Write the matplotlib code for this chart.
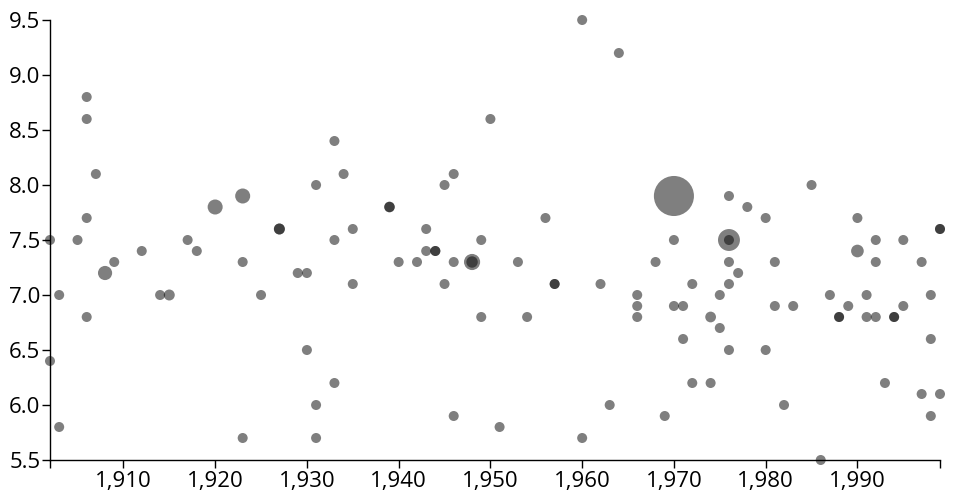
import matplotlib.pyplot as plt
from matplotlib.ticker import FuncFormatter

plt.rcParams['font.family'] = ['Open Sans', 'DejaVu Sans']

# год выпуска, рейтинг, относительный "вес" (площадь кружка)
years = [1906, 1906, 1907, 1906, 1902, 1905, 1920, 1923, 1927, 1927, 1931, 1917,
         1912, 1918, 1908, 1909, 1903, 1906, 1914, 1915, 1923, 1925, 1929, 1930,
         1930, 1902, 1903, 1923, 1931, 1931,
         1960, 1964, 1950, 1933, 1934, 1946, 1945, 1939, 1939, 1956, 1935, 1943,
         1933, 1949, 1943, 1944, 1944, 1940, 1942, 1946, 1948, 1948, 1953, 1935,
         1945, 1957, 1957, 1962, 1966, 1966, 1966, 1949, 1954, 1933, 1946, 1951,
         1960, 1963,
         1970, 1976, 1978, 1980, 1985, 1990, 1999, 1999, 1970, 1976, 1976, 1992,
         1995, 1990, 1968, 1976, 1981, 1992, 1997, 1977, 1972, 1976, 1975, 1987,
         1991, 1998, 1970, 1971, 1981, 1983, 1989, 1995, 1974, 1988, 1988, 1991,
         1992, 1994, 1994, 1975, 1971, 1998, 1976, 1980, 1972, 1974, 1993, 1997,
         1999, 1982, 1969, 1998, 1986]
ratings = [8.8, 8.6, 8.1, 7.7, 7.5, 7.5, 7.8, 7.9, 7.6, 7.6, 8.0, 7.5,
           7.4, 7.4, 7.2, 7.3, 7.0, 6.8, 7.0, 7.0, 7.3, 7.0, 7.2, 7.2,
           6.5, 6.4, 5.8, 5.7, 6.0, 5.7,
           9.5, 9.2, 8.6, 8.4, 8.1, 8.1, 8.0, 7.8, 7.8, 7.7, 7.6, 7.6,
           7.5, 7.5, 7.4, 7.4, 7.4, 7.3, 7.3, 7.3, 7.3, 7.3, 7.3, 7.1,
           7.1, 7.1, 7.1, 7.1, 7.0, 6.9, 6.8, 6.8, 6.8, 6.2, 5.9, 5.8,
           5.7, 6.0,
           7.9, 7.9, 7.8, 7.7, 8.0, 7.7, 7.6, 7.6, 7.5, 7.5, 7.5, 7.5,
           7.5, 7.4, 7.3, 7.3, 7.3, 7.3, 7.3, 7.2, 7.1, 7.1, 7.0, 7.0,
           7.0, 7.0, 6.9, 6.9, 6.9, 6.9, 6.9, 6.9, 6.8, 6.8, 6.8, 6.8,
           6.8, 6.8, 6.8, 6.7, 6.6, 6.6, 6.5, 6.5, 6.2, 6.2, 6.2, 6.1,
           6.1, 6.0, 5.9, 5.9, 5.5]
weights = [1, 1, 1, 1, 1, 1, 2.25, 2.25, 1.2, 1.2, 1, 1,
           1, 1, 2, 1, 1, 1, 1, 1.2, 1, 1, 1, 1,
           1, 1, 1, 1, 1, 1,
           1, 1, 1, 1, 1, 1, 1, 1.1, 1.1, 1, 1, 1,
           1, 1, 1, 1, 1, 1, 1, 1, 2.6, 1.3, 1, 1,
           1, 1, 1, 1, 1, 1, 1, 1, 1, 1, 1, 1,
           1, 1,
           16, 1, 1, 1, 1, 1, 1, 1, 1, 4.8, 1, 1,
           1, 1.6, 1, 1, 1, 1, 1, 1, 1, 1, 1, 1,
           1, 1, 1, 1, 1, 1, 1, 1, 1.15, 1, 1, 1,
           1, 1, 1, 1, 1, 1, 1, 1, 1, 1, 1, 1,
           1, 1, 1, 1, 1]

x_ticks = [1910, 1920, 1930, 1940, 1950, 1960, 1970, 1980, 1990]
y_ticks = [5.5, 6.0, 6.5, 7.0, 7.5, 8.0, 8.5, 9.0, 9.5]

fig = plt.figure(figsize=(9.6, 5.0), dpi=100)
ax = fig.add_axes([50 / 960, 40 / 500, 890 / 960, 440 / 500])

ax.scatter(years, ratings, s=[52 * w for w in weights], color='black',
           alpha=0.5, linewidths=0, clip_on=False, zorder=3)

ax.set_xlim(1902, 1999)
ax.set_ylim(5.5, 9.5)
ax.set_xticks(x_ticks)
ax.set_xticks([1902, 1999], minor=True)
ax.set_yticks(y_ticks)
ax.xaxis.set_major_formatter(FuncFormatter(lambda v, p: '{:,}'.format(int(v))))
ax.yaxis.set_major_formatter(FuncFormatter(lambda v, p: '{:.1f}'.format(v)))

ax.tick_params(axis='both', which='both', length=6, width=1, labelsize=16,
               direction='out', color='black')
ax.tick_params(axis='x', which='minor', length=6)
ax.tick_params(axis='x', pad=2)
ax.tick_params(axis='y', pad=1)

for side in ['top', 'right']:
    ax.spines[side].set_visible(False)
for side in ['left', 'bottom']:
    ax.spines[side].set_linewidth(1)

plt.savefig('out.png', dpi=100)
